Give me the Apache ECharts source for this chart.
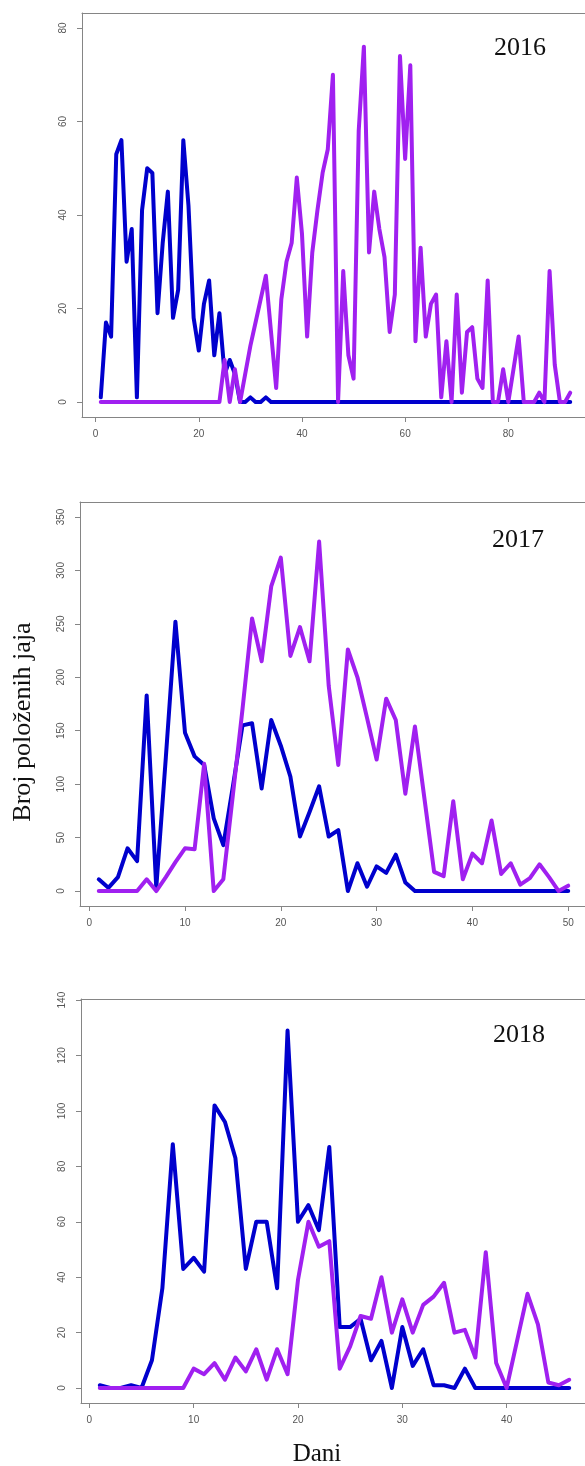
<!DOCTYPE html>
<html>
<head>
<meta charset="utf-8">
<script src="https://cdn.jsdelivr.net/npm/echarts@6/dist/echarts.min.js"></script>
<style>
  html, body { margin: 0; padding: 0; background: #ffffff; }
  #chart { width: 585px; height: 1466px; }
</style>
</head>
<body>
<div id="chart"></div>
<script>
// Daily counts of laid eggs, one value per day (day 1, 2, 3, ...)
const blue2016 = [
  1, 17, 14, 53, 56, 30, 37, 1, 41, 50,
  49, 19, 34, 45, 18, 24, 56, 42, 18, 11,
  21, 26, 10, 19, 6, 9, 6, 0, 0, 1,
  0, 0, 1, 0, 0, 0, 0, 0, 0, 0,
  0, 0, 0, 0, 0, 0, 0, 0, 0, 0,
  0, 0, 0, 0, 0, 0, 0, 0, 0, 0,
  0, 0, 0, 0, 0, 0, 0, 0, 0, 0,
  0, 0, 0, 0, 0, 0, 0, 0, 0, 0,
  0, 0, 0, 0, 0, 0, 0, 0, 0, 0,
  0, 0
];
const purple2016 = [
  0, 0, 0, 0, 0, 0, 0, 0, 0, 0,
  0, 0, 0, 0, 0, 0, 0, 0, 0, 0,
  0, 0, 0, 0, 9, 0, 7, 0, 6, 12,
  17, 22, 27, 15, 3, 22, 30, 34, 48, 36,
  14, 32, 41, 49, 54, 70, 0, 28, 10, 5,
  58, 76, 32, 45, 37, 31, 15, 23, 74, 52,
  72, 13, 33, 14, 21, 23, 1, 13, 0, 23,
  2, 15, 16, 5, 3, 26, 0, 0, 7, 0,
  7, 14, 0, 0, 0, 2, 0, 28, 8, 0,
  0, 2
];

const blue2017 = [
  11, 3, 13, 40, 28, 183, 3, 125, 252, 148,
  126, 118, 68, 43, 98, 155, 157, 96, 160, 136,
  107, 51, 74, 98, 51, 57, 0, 26, 4, 23,
  17, 34, 8, 0, 0, 0, 0, 0, 0, 0,
  0, 0, 0, 0, 0, 0, 0, 0, 0, 0
];
const purple2017 = [
  0, 0, 0, 0, 0, 11, 0, 13, 27, 40,
  39, 119, 0, 11, 90, 170, 255, 215, 285, 312,
  220, 247, 215, 327, 192, 118, 226, 200, 162, 123,
  180, 160, 91, 154, 86, 18, 14, 84, 11, 35,
  26, 66, 16, 26, 6, 12, 25, 13, 0, 5
];

const blue2018 = [
  1, 0, 0, 1, 0, 10, 36, 88, 43, 47,
  42, 102, 96, 83, 43, 60, 60, 36, 129, 60,
  66, 57, 87, 22, 22, 25, 10, 17, 0, 22,
  8, 14, 1, 1, 0, 7, 0, 0, 0, 0,
  0, 0, 0, 0, 0, 0
];
const purple2018 = [
  0, 0, 0, 0, 0, 0, 0, 0, 0, 7,
  5, 9, 3, 11, 6, 14, 3, 14, 5, 39,
  60, 51, 53, 7, 15, 26, 25, 40, 20, 32,
  20, 30, 33, 38, 20, 21, 11, 49, 9, 0,
  17, 34, 23, 2, 1, 3
];

// Tick labels
const xTicks2016 = [0, 20, 40, 60, 80];
const yTicks2016 = [0, 20, 40, 60, 80];
const xTicks2017 = [0, 10, 20, 30, 40, 50];
const yTicks2017 = [0, 50, 100, 150, 200, 250, 300, 350];
const xTicks2018 = [0, 10, 20, 30, 40];
const yTicks2018 = [0, 20, 40, 60, 80, 100, 120, 140];

// Text
const years = ['2016', '2017', '2018'];
const yTitle = 'Broj položenih jaja';
const xTitle = 'Dani';

const BLUE = '#0000CD';
const PURPLE = '#A020F0';
const GREY = '#858585';
const LABEL = '#555555';
const SANS = '"Liberation Sans", Arial, Helvetica, sans-serif';
const SERIF = '"Liberation Serif", "Times New Roman", Times, serif';

// Points numbered by day, starting at day 1
const toPoints = vals => vals.map((v, i) => [i + 1, v]);

// Data range widened by 4% on each side
const padRange = (lo, hi) => [lo - 0.04 * (hi - lo), hi + 0.04 * (hi - lo)];

const panels = [
  { year: years[0], blue: blue2016, purple: purple2016, xTicks: xTicks2016, yTicks: yTicks2016,
    xLim: [1, blue2016.length], yLim: [0, 80], left: 82, top: 13, yearPos: [520, 48] },
  { year: years[1], blue: blue2017, purple: purple2017, xTicks: xTicks2017, yTicks: yTicks2017,
    xLim: [1, blue2017.length], yLim: [0, 350], left: 80, top: 502, yearPos: [518, 540] },
  { year: years[2], blue: blue2018, purple: purple2018, xTicks: xTicks2018, yTicks: yTicks2018,
    xLim: [1, blue2018.length], yLim: [0, 135], left: 81, top: 999, yearPos: [519, 1035] }
];

const grids = [], xAxes = [], yAxes = [], series = [], texts = [];

panels.forEach((p, i) => {
  const xr = padRange(p.xLim[0], p.xLim[1]);
  const yr = padRange(p.yLim[0], p.yLim[1]);
  grids.push({
    left: p.left, top: p.top, width: 507, height: 404,
    show: false, containLabel: false, outerBoundsMode: 'none'
  });
  // bottom axis: frame edge, ticks and labels
  xAxes.push({
    gridIndex: i, type: 'value', position: 'bottom', min: xr[0], max: xr[1],
    axisLine: { show: true, onZero: false, lineStyle: { color: GREY, width: 1 } },
    splitLine: { show: false },
    axisTick: { show: true, customValues: p.xTicks, length: 5, inside: false,
                lineStyle: { color: GREY, width: 1 } },
    axisLabel: { show: true, customValues: p.xTicks, margin: 12, fontSize: 10,
                 color: LABEL, fontFamily: SANS }
  });
  // top axis: frame edge only
  xAxes.push({
    gridIndex: i, type: 'value', position: 'top', min: xr[0], max: xr[1],
    axisLine: { show: true, onZero: false, lineStyle: { color: GREY, width: 1 } },
    splitLine: { show: false }, axisTick: { show: false }, axisLabel: { show: false }
  });
  yAxes.push({
    gridIndex: i, type: 'value', min: yr[0], max: yr[1],
    axisLine: { show: true, onZero: false, lineStyle: { color: GREY, width: 1 } },
    splitLine: { show: false },
    axisTick: { show: true, customValues: p.yTicks, length: 5, inside: false,
                lineStyle: { color: GREY, width: 1 } },
    axisLabel: { show: true, customValues: p.yTicks, rotate: 90, margin: 14, fontSize: 10,
                 color: LABEL, fontFamily: SANS }
  });
  series.push({
    type: 'line', xAxisIndex: 2 * i, yAxisIndex: i, data: toPoints(p.blue),
    showSymbol: false, symbol: 'none', silent: true, z: 2, clip: true,
    lineStyle: { color: BLUE, width: 4, join: 'round', cap: 'round' }
  });
  series.push({
    type: 'line', xAxisIndex: 2 * i, yAxisIndex: i, data: toPoints(p.purple),
    showSymbol: false, symbol: 'none', silent: true, z: 3, clip: true,
    lineStyle: { color: PURPLE, width: 4, join: 'round', cap: 'round' }
  });
  texts.push({
    type: 'text', x: p.yearPos[0], y: p.yearPos[1], silent: true,
    style: { text: p.year, fill: '#111', font: '26px ' + SERIF,
             textAlign: 'center', textVerticalAlign: 'middle' }
  });
});

texts.push({
  type: 'text', x: 23, y: 722, rotation: Math.PI / 2, silent: true,
  style: { text: yTitle, fill: '#111', font: '26px ' + SERIF,
           textAlign: 'center', textVerticalAlign: 'middle' }
});
texts.push({
  type: 'text', x: 317, y: 1454, silent: true,
  style: { text: xTitle, fill: '#111', font: '25px ' + SERIF,
           textAlign: 'center', textVerticalAlign: 'middle' }
});

const chart = echarts.init(document.getElementById('chart'), null, { renderer: 'canvas' });
chart.setOption({
  animation: false,
  backgroundColor: '#ffffff',
  grid: grids,
  xAxis: xAxes,
  yAxis: yAxes,
  series: series,
  graphic: texts
});
</script>
</body>
</html>
